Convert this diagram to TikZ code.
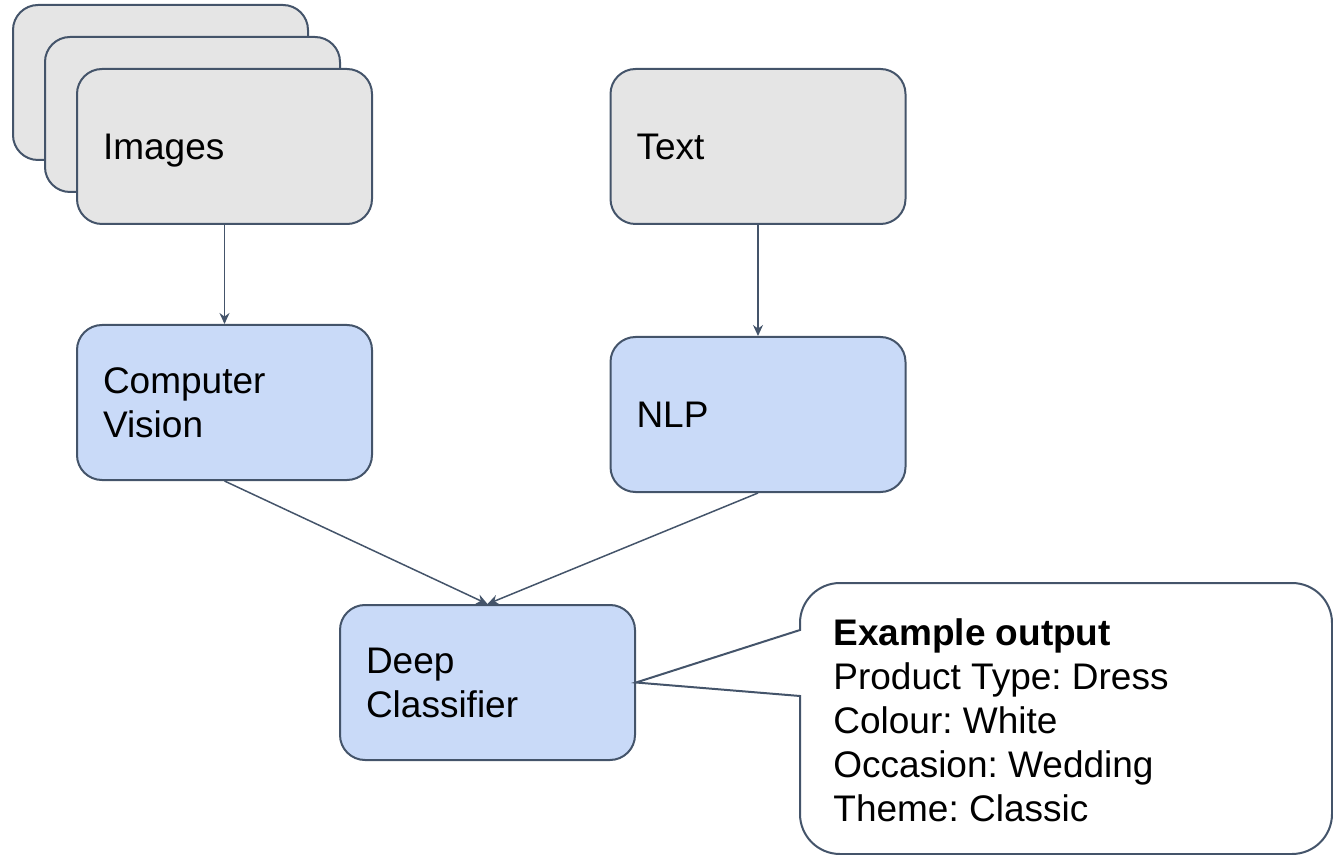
\documentclass[tikz,border=0pt]{standalone}
\usepackage{fontspec}
\setmainfont{Liberation Sans}
\usetikzlibrary{arrows.meta}
\definecolor{edgeslate}{RGB}{68,84,106}
\definecolor{cardgray}{RGB}{229,229,229}
\definecolor{modelblue}{RGB}{201,218,248}
\frenchspacing

\begin{document}
\begin{tikzpicture}[
        x=0.5pt, y=-0.5pt,
        every node/.style={font=\fontsize{18.5}{22}\selectfont},
        card/.style={rectangle, draw=edgeslate, line width=1pt, rounded corners=12.5pt, minimum width=147.5pt, minimum height=77.5pt, text width=121.5pt, inner xsep=13pt, align=left},
        input/.style={card, fill=cardgray},
        model/.style={card, fill=modelblue},
        arrow/.style={-{Stealth[length=5.5pt, width=5pt]}, draw=edgeslate, line width=0.75pt},
        bubble/.style={draw=edgeslate, line width=1pt, fill=white}
    ]
        \useasboundingbox (0,0) rectangle (1333,855);
        % stacked image cards
        \node[input] (img3) at (160.5,82.5) {};
        \node[input] (img2) at (192.5,114.5) {};
        \node[input, text depth=0pt] (images) at (224.5,146.5) {Images};
        \node[input] (text) at (758,146.5) {Text};
        \node[model] (cv) at (224.5,402.5) {Computer\\ Vision};
        \node[model] (nlp) at (758,414.5) {NLP};
        \node[model] (dc) at (487.5,682.5) {Deep\\ Classifier};
        \draw[arrow] (images) -- (cv);
        \draw[arrow] (text) -- (nlp);
        \draw[arrow] (cv.south) -- (dc.north);
        \draw[arrow] (nlp.south) -- (dc.north);
        % speech bubble
        \draw[bubble] (1000,583) [rounded corners=20pt] -- (1332,583) -- (1332,854) -- (800,854) [sharp corners] -- (800,696) -- (dc.east) -- (800,630) [rounded corners=20pt] -- (800,583) -- cycle;
        \node[anchor=west, align=left, inner sep=0pt] (output) at (833,720) {\textbf{Example output}\\ Product Type: Dress\\ Colour: White\\ Occasion: Wedding\\ Theme: Classic};
    \end{tikzpicture}
\end{document}
